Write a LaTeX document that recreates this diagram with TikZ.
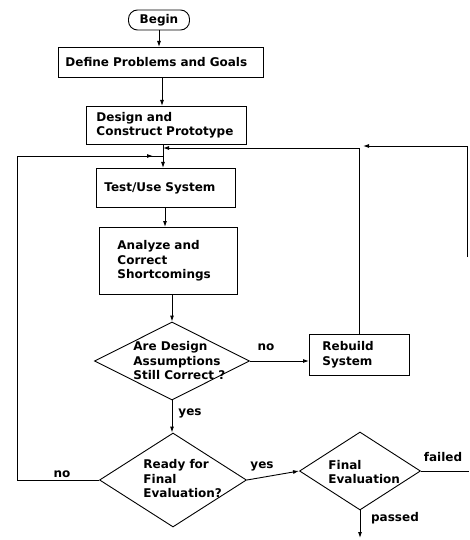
\documentclass[tikz,border=0pt]{standalone}
\usepackage{fontspec}
\setmainfont{DejaVu Sans}
\usetikzlibrary{shapes.geometric,arrows.meta}
\begin{document}
\begin{tikzpicture}[x=1pt,y=-1pt,
  font=\bfseries\fontsize{12}{14.5}\selectfont,
  line width=0.9pt,
  box/.style={draw, align=left, inner ysep=0pt, anchor=north west},
  arr/.style={-{Latex[length=6pt,width=4pt]}},
  dia/.style={draw, diamond, inner sep=0pt},
  txt/.style={inner sep=0pt, align=left}]
\useasboundingbox (0,0) rectangle (469,540);

% boxes
\node[draw, rounded corners=9pt, minimum width=61pt, minimum height=20pt, inner sep=0pt] (begin) at (159,20) {Begin};
\node[box, minimum height=30pt, text width=191pt, inner xsep=7pt] (define) at (58,47) {Define Problems and Goals};
\node[box, minimum height=38pt, text width=140pt, inner xsep=10pt] (design) at (86,106) {Design and\\Construct Prototype};
\node[box, minimum height=39pt, text width=123pt, inner xsep=8pt] (test) at (96,168) {Test/Use System};
\node[box, minimum height=67pt, text width=102pt, inner xsep=18pt] (analyze) at (99,227) {Analyze and\\Correct\\Shortcomings};
\node[box, minimum height=41pt, text width=74pt, inner xsep=13pt] (rebuild) at (309,334) {Rebuild\\System};

% diamonds
\node[dia, minimum width=155pt, minimum height=78pt] (d1) at (172,361) {};
\node[dia, minimum width=147pt, minimum height=94pt] (d2) at (173,480) {};
\node[dia, minimum width=121pt, minimum height=78pt] (d3) at (360,471) {};
\node[txt, anchor=west] (t1) at (133,361) {Are Design\\Assumptions\\Still Correct ?};
\node[txt, anchor=west] (t2) at (143,479) {Ready for\\Final\\Evaluation?};
\node[txt, anchor=west] (t3) at (328,472) {Final\\Evaluation};

% helper coordinates
\coordinate (sp1) at (162,0);
\coordinate (sp2) at (163,0);
\coordinate (sp3) at (165,0);
\coordinate (loopR) at (163,148);
\coordinate (cornerL) at (17,156);
\coordinate (loopL) at (163,156);
\coordinate (midL) at (153,156);
\coordinate (failEnd) at (469,470);
\coordinate (fA) at (467,257);
\coordinate (fB) at (467,146);
\coordinate (fC) at (363,146);
\coordinate (passEnd) at (360,538);

% connectors
\draw[arr] (begin.south) -- (begin.south |- define.north);
\draw[arr] (sp1 |- define.south) -- (sp1 |- design.north);
\draw[arr] (sp2 |- design.south) -- (sp2 |- test.north);
\draw[arr] (sp3 |- test.south) -- (sp3 |- analyze.north);
\draw[arr] (d1.north |- analyze.south) -- (d1.north);
\draw[arr] (d1.south) -- (d1.south |- d2.north);
\draw[arr] (d1.east) -- (d1.east -| rebuild.west);
\draw[arr] (rebuild.north) |- (loopR);
\draw (d2.west) -| (cornerL) -- (loopL);
\draw[arr] (cornerL) -- (midL);
\draw[arr] (d2.east) -- (d3.west);
\draw (d3.east) -- (d3.east -| failEnd);
\draw[arr] (fA) -- (fB) -- (fC);
\draw[arr] (d3.south) -- (passEnd);

% labels
\node[txt] (lno1) at (266,347) {no};
\node[txt, anchor=west] (lyes1) at (178,413) {yes};
\node[txt] (lno2) at (62,474) {no};
\node[txt] (lyes2) at (262,466) {yes};
\node[txt] (lfail) at (443,457) {failed};
\node[txt] (lpass) at (395,518) {passed};
\end{tikzpicture}
\end{document}
